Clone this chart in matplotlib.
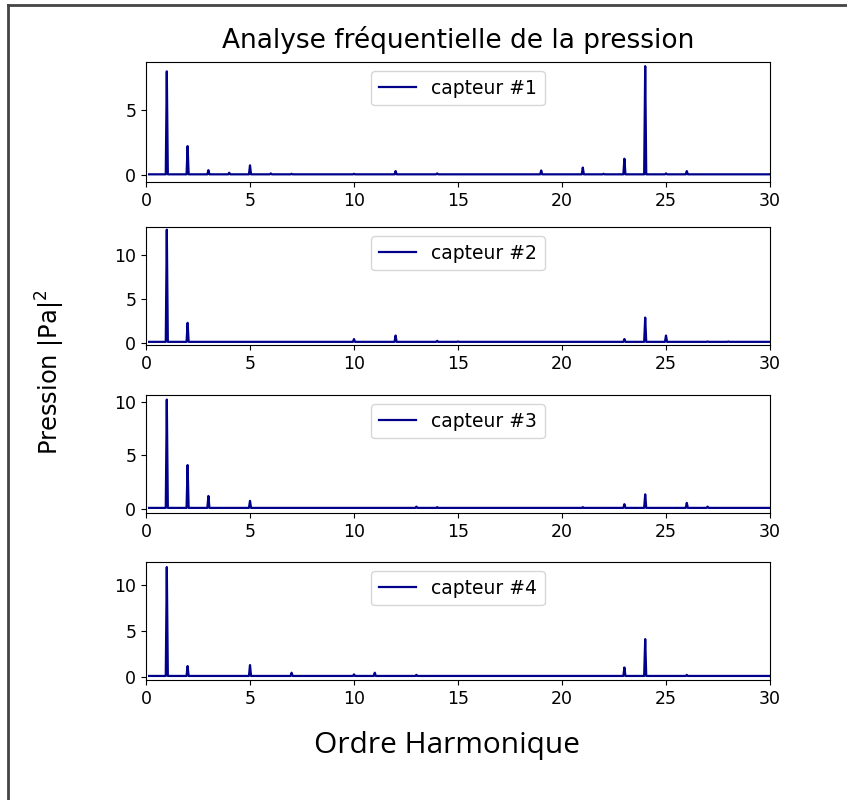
import numpy as np
import matplotlib.pyplot as plt
from matplotlib.lines import Line2D

# ==================== Data ====================
labels = ['capteur #1', 'capteur #2', 'capteur #3', 'capteur #4']

# harmonic orders and amplitudes of the peaks read on each sensor
orders_1 = [1, 2, 3, 4, 5, 6, 7, 10, 12, 14, 19, 21, 22, 23, 24, 25, 26]
amps_1 = [8.0, 2.25, 0.4, 0.2, 0.77, 0.15, 0.12, 0.12, 0.33, 0.15, 0.38, 0.6, 0.12, 1.28, 8.4, 0.15, 0.33]

orders_2 = [1, 2, 10, 12, 14, 15, 23, 24, 25, 27, 28]
amps_2 = [12.9, 2.25, 0.4, 0.8, 0.2, 0.12, 0.4, 2.85, 0.8, 0.12, 0.12]

orders_3 = [1, 2, 3, 5, 13, 14, 21, 23, 24, 26, 27]
amps_3 = [10.25, 4.1, 1.2, 0.74, 0.2, 0.15, 0.15, 0.43, 1.35, 0.55, 0.2]

orders_4 = [1, 2, 5, 7, 10, 11, 13, 23, 24, 26]
amps_4 = [11.9, 1.15, 1.26, 0.43, 0.25, 0.43, 0.2, 1.0, 4.08, 0.2]

baseline = 0.08
x_start, x_end, dx = 0.15, 30.0, 0.05

ylims = [(-0.51, 8.72), (-0.28, 13.2), (-0.4, 10.68), (-0.36, 12.45)]

peaks = [(orders_1, amps_1), (orders_2, amps_2), (orders_3, amps_3), (orders_4, amps_4)]

# ==================== Plot ====================
fig = plt.figure(figsize=(8.47, 8.0), dpi=100)

x = np.round(np.arange(x_start, x_end + dx / 2, dx), 2)

tops = [62, 227, 395, 562]
bottoms = [182, 345, 513, 680]
W, H = 847.0, 800.0

for i, (orders, amps) in enumerate(peaks):
    y = np.full_like(x, baseline)
    for h, a in zip(orders, amps):
        y[np.argmin(np.abs(x - h))] = a
    ax = fig.add_axes([146 / W, 1 - bottoms[i] / H, (770 - 146) / W, (bottoms[i] - tops[i]) / H])
    ax.plot(x, y, color='darkblue', linewidth=1.6, label=labels[i])
    ax.set_xlim(0, 30)
    ax.set_ylim(*ylims[i])
    ax.set_xticks([0, 5, 10, 15, 20, 25, 30])
    ax.tick_params(labelsize=12.5)
    ax.legend(loc='upper center', fontsize=13.5, handlelength=2.0)

fig.text(458 / W, 1 - 40 / H, "Analyse fréquentielle de la pression", fontsize=19,
         ha='center', va='center')
fig.text(447 / W, 1 - 745 / H, "Ordre Harmonique", fontsize=21.5, family='Open Sans',
         ha='center', va='center')
fig.text(50 / W, 1 - 372 / H, r"Pression $|\mathrm{Pa}|^2$", fontsize=17.4,
         rotation=90, ha='center', va='center')

# frame of the screenshot
fig.add_artist(Line2D([8 / W, 1], [1 - 5 / H, 1 - 5 / H], color='#444444', linewidth=2))
fig.add_artist(Line2D([8 / W, 8 / W], [0, 1 - 5 / H], color='#444444', linewidth=2))

plt.savefig("out.png", dpi=100)
